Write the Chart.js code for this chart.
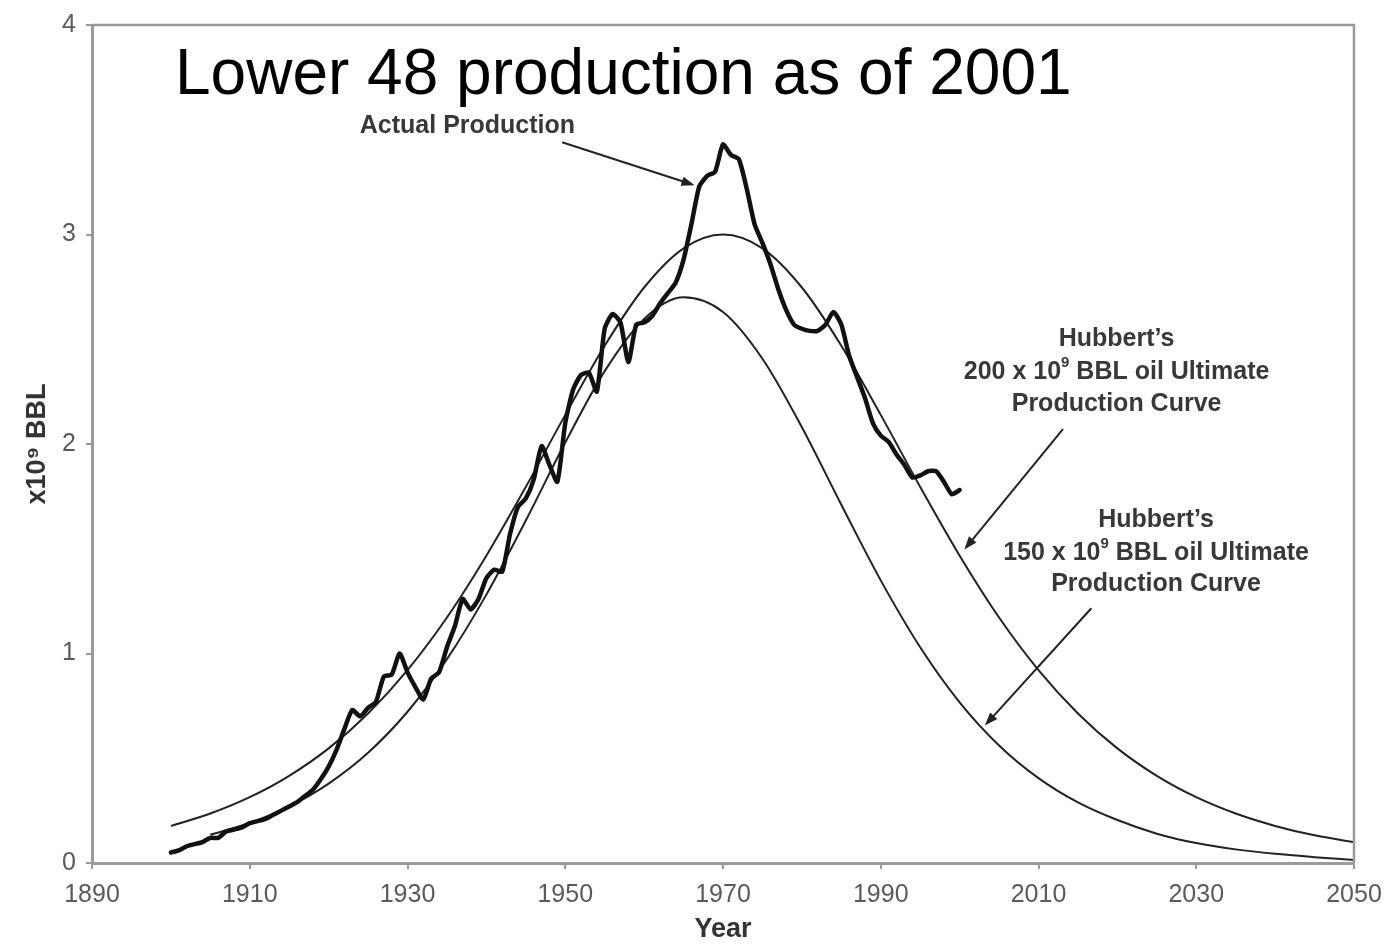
<!doctype html>
<html lang="en">
<head>
<meta charset="utf-8">
<title>Lower 48 production as of 2001</title>
<style>
  html, body { margin: 0; padding: 0; background: #fff; }
  #wrap { width: 1397px; height: 946px; position: relative; }
</style>
</head>
<body>
<div id="wrap"><canvas id="chart" width="1397" height="946"></canvas></div>
<script src="https://cdn.jsdelivr.net/npm/chart.js"></script>
<script>
// actual lower 48 production, x10^9 BBL per year
const actualYears = [1900, 1901, 1902, 1903, 1904, 1905, 1906, 1907, 1908, 1909,
  1910, 1911, 1912, 1913, 1914, 1915, 1916, 1917, 1918, 1919,
  1920, 1921, 1922, 1923, 1924, 1925, 1926, 1927, 1928, 1929,
  1930, 1931, 1932, 1933, 1934, 1935, 1936, 1937, 1938, 1939,
  1940, 1941, 1942, 1943, 1944, 1945, 1946, 1947, 1948, 1949,
  1950, 1951, 1952, 1953, 1954, 1955, 1956, 1957, 1958, 1959,
  1960, 1961, 1962, 1963, 1964, 1965, 1966, 1967, 1968, 1969,
  1970, 1971, 1972, 1973, 1974, 1975, 1976, 1977, 1978, 1979,
  1980, 1981, 1982, 1983, 1984, 1985, 1986, 1987, 1988, 1989,
  1990, 1991, 1992, 1993, 1994, 1995, 1996, 1997, 1998, 1999, 2000]
const actualValues = [0.05, 0.06, 0.08, 0.09, 0.10, 0.12, 0.12, 0.15, 0.16, 0.17,
  0.19, 0.20, 0.21, 0.23, 0.25, 0.27, 0.29, 0.32, 0.35, 0.40,
  0.46, 0.54, 0.64, 0.73, 0.70, 0.74, 0.77, 0.89, 0.90, 1.00,
  0.91, 0.84, 0.78, 0.88, 0.91, 1.03, 1.13, 1.26, 1.21, 1.26,
  1.36, 1.40, 1.39, 1.57, 1.70, 1.74, 1.83, 1.99, 1.90, 1.82,
  2.10, 2.26, 2.33, 2.34, 2.25, 2.55, 2.62, 2.58, 2.39, 2.57,
  2.58, 2.61, 2.67, 2.72, 2.77, 2.88, 3.05, 3.23, 3.28, 3.30,
  3.43, 3.38, 3.36, 3.22, 3.05, 2.96, 2.86, 2.74, 2.64, 2.57,
  2.55, 2.54, 2.54, 2.57, 2.63, 2.57, 2.42, 2.32, 2.22, 2.10,
  2.04, 2.01, 1.95, 1.90, 1.84, 1.85, 1.87, 1.87, 1.82, 1.76, 1.78]

// Hubbert 200 x 10^9 BBL curve
const h200Years = [1900, 1905, 1910, 1915, 1920, 1925, 1930, 1935, 1940, 1945,
  1950, 1955, 1960, 1965, 1970, 1975, 1980, 1985, 1990, 1995,
  2000, 2005, 2010, 2015, 2020, 2025, 2030, 2035, 2040, 2045, 2050]
const h200Values = [0.177, 0.236, 0.314, 0.416, 0.547, 0.714, 0.921, 1.172, 1.467, 1.795,
  2.139, 2.469, 2.747, 2.934, 3.0, 2.934, 2.747, 2.469, 2.139, 1.795,
  1.467, 1.172, 0.921, 0.714, 0.547, 0.416, 0.314, 0.236, 0.177, 0.132, 0.10]

// Hubbert 150 x 10^9 BBL curve
const h150Years = [1905, 1910, 1915, 1920, 1925, 1930, 1935, 1940, 1945,
  1950, 1955, 1960, 1965, 1970, 1975, 1980, 1985, 1990, 1995,
  2000, 2005, 2010, 2015, 2020, 2025, 2030, 2035, 2040, 2045, 2050]
const h150Values = [0.135, 0.191, 0.270, 0.379, 0.526, 0.722, 0.973, 1.281, 1.635,
  2.007, 2.348, 2.597, 2.70, 2.630, 2.407, 2.080, 1.710, 1.349, 1.030,
  0.767, 0.561, 0.405, 0.289, 0.205, 0.140, 0.095, 0.065, 0.044, 0.028, 0.014]

const xTicks = [1890, 1910, 1930, 1950, 1970, 1990, 2010, 2030, 2050]
const yTicks = [0, 1, 2, 3, 4]

const title = 'Lower 48 production as of 2001'
const yTitle = 'x10\u2079 BBL'
const xTitle = 'Year'

// notes: text blocks and arrows, placed in data units
const notes = [
  { x: 1937.6, ys: [3.517], lines: [[['Actual Production']]] },
  { x: 2019.9, ys: [2.50, 2.342, 2.191],
    lines: [[["Hubbert\u2019s"]], [['200 x 10'], ['9', 1], [' BBL oil Ultimate']], [['Production Curve']]] },
  { x: 2024.9, ys: [1.638, 1.479, 1.329],
    lines: [[["Hubbert\u2019s"]], [['150 x 10'], ['9', 1], [' BBL oil Ultimate']], [['Production Curve']]] }
]
const arrows = [
  [1949.6, 3.44, 1966.4, 3.235],
  [2013.1, 2.071, 2000.6, 1.496],
  [2016.7, 1.216, 2003.2, 0.656]
]

const pts = (xs, ys) => xs.map((x, i) => ({ x, y: ys[i] }))

const notesPlugin = {
  id: 'notes',
  afterDatasetsDraw(chart) {
    const { ctx, chartArea: a, scales: { x, y } } = chart
    ctx.save()
    // top and right frame
    ctx.strokeStyle = '#9a9a9a'
    ctx.lineWidth = 2.5
    ctx.beginPath()
    ctx.moveTo(a.left, a.top)
    ctx.lineTo(a.right, a.top)
    ctx.lineTo(a.right, a.bottom)
    ctx.stroke()

    // big title
    ctx.fillStyle = '#000'
    ctx.font = '64px "Liberation Sans", Arial, sans-serif'
    ctx.textBaseline = 'alphabetic'
    ctx.textAlign = 'left'
    ctx.fillText(title, 175, 94)

    // text notes
    ctx.fillStyle = '#383838'
    ctx.textBaseline = 'middle'
    const big = 'bold 25px "Liberation Sans", Arial, sans-serif'
    const small = 'bold 15px "Liberation Sans", Arial, sans-serif'
    notes.forEach(n => {
      n.lines.forEach((parts, i) => {
        let w = 0
        parts.forEach(p => { ctx.font = p[1] ? small : big; w += ctx.measureText(p[0]).width })
        let cx = x.getPixelForValue(n.x) - w / 2
        const cy = y.getPixelForValue(n.ys[i])
        parts.forEach(p => {
          ctx.font = p[1] ? small : big
          ctx.textAlign = 'left'
          ctx.fillText(p[0], cx, p[1] ? cy - 9 : cy)
          cx += ctx.measureText(p[0]).width
        })
      })
    })

    // arrows
    ctx.strokeStyle = '#222'
    ctx.fillStyle = '#222'
    ctx.lineWidth = 2
    arrows.forEach(([x0, y0, x1, y1]) => {
      const px0 = x.getPixelForValue(x0), py0 = y.getPixelForValue(y0)
      const px1 = x.getPixelForValue(x1), py1 = y.getPixelForValue(y1)
      const ang = Math.atan2(py1 - py0, px1 - px0)
      ctx.beginPath()
      ctx.moveTo(px0, py0)
      ctx.lineTo(px1 - 8 * Math.cos(ang), py1 - 8 * Math.sin(ang))
      ctx.stroke()
      ctx.beginPath()
      ctx.moveTo(px1, py1)
      ctx.lineTo(px1 - 14 * Math.cos(ang - 0.35), py1 - 14 * Math.sin(ang - 0.35))
      ctx.lineTo(px1 - 14 * Math.cos(ang + 0.35), py1 - 14 * Math.sin(ang + 0.35))
      ctx.closePath()
      ctx.fill()
    })
    ctx.restore()
  }
}

const tickFont = { family: '"Liberation Sans", Arial, sans-serif', size: 25 }
const axisTitleFont = { family: '"Liberation Sans", Arial, sans-serif', size: 27, weight: 'bold' }

new Chart(document.getElementById('chart'), {
  type: 'line',
  data: {
    datasets: [
      {
        label: 'Actual Production',
        data: pts(actualYears, actualValues),
        borderColor: '#111',
        borderWidth: 4.5,
        pointRadius: 0,
        tension: 0.2,
        borderJoinStyle: 'round',
        borderCapStyle: 'round'
      },
      {
        label: 'Hubbert 200',
        data: pts(h200Years, h200Values),
        borderColor: '#222',
        borderWidth: 2,
        pointRadius: 0,
        cubicInterpolationMode: 'monotone'
      },
      {
        label: 'Hubbert 150',
        data: pts(h150Years, h150Values),
        borderColor: '#222',
        borderWidth: 2,
        pointRadius: 0,
        cubicInterpolationMode: 'monotone'
      }
    ]
  },
  options: {
    responsive: false,
    animation: false,
    layout: { padding: { top: 22, right: 43, left: 0, bottom: 0 } },
    plugins: { legend: { display: false }, tooltip: { enabled: false } },
    scales: {
      x: {
        type: 'linear',
        min: 1890,
        max: 2050,
        afterBuildTicks: s => { s.ticks = xTicks.map(v => ({ value: v })) },
        afterFit: s => { s.height = 83 },
        ticks: { color: '#5a5a5a', font: tickFont, padding: 11, maxRotation: 0, callback: v => String(v) },
        grid: { drawOnChartArea: false, drawTicks: true, tickLength: 6, color: '#9a9a9a', lineWidth: 2 },
        border: { display: true, color: '#9a9a9a', width: 3 },
        title: { display: true, text: xTitle, color: '#333', font: axisTitleFont, padding: { top: 0, bottom: 0 } }
      },
      y: {
        min: 0,
        max: 4,
        afterBuildTicks: s => { s.ticks = yTicks.map(v => ({ value: v })) },
        afterFit: s => { s.width = 92 },
        ticks: { color: '#5a5a5a', font: tickFont, padding: 10, callback: v => String(v) },
        grid: { drawOnChartArea: false, drawTicks: true, tickLength: 6, color: '#9a9a9a', lineWidth: 2 },
        border: { display: true, color: '#9a9a9a', width: 3 },
        title: { display: true, text: yTitle, color: '#333', font: axisTitleFont, padding: { top: 21, bottom: 0 } }
      }
    }
  },
  plugins: [notesPlugin]
})
</script>
</body>
</html>
